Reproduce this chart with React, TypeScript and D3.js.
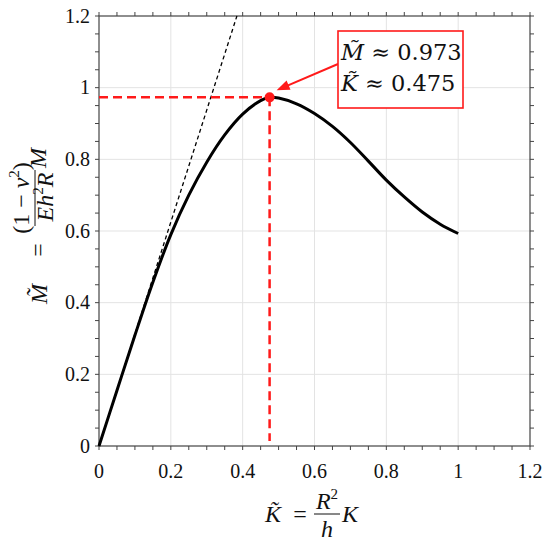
import React from 'react';
import * as d3 from 'd3';

// curve
const kValues = [0, 0.05, 0.1, 0.15, 0.2, 0.25, 0.3, 0.35, 0.4, 0.45, 0.475, 0.5, 0.55, 0.6, 0.65, 0.7, 0.75, 0.8, 0.85, 0.9, 0.95, 1.0];
const mValues = [0, 0.155, 0.309, 0.457, 0.59, 0.7, 0.792, 0.868, 0.926, 0.964, 0.973, 0.971, 0.955, 0.928, 0.892, 0.847, 0.795, 0.742, 0.695, 0.653, 0.619, 0.593];

// initial slope line (dashed black)
const tangentK = [0, 0.384];
const tangentM = [0, 1.2];

// maximum
const peakK = 0.475;
const peakM = 0.973;

const majorTicks = [0, 0.2, 0.4, 0.6, 0.8, 1, 1.2];
const minorTicks = d3.range(0, 25).map(i => i * 0.05);
const tickLabels = ['0', '0.2', '0.4', '0.6', '0.8', '1', '1.2'];

const W = 550;
const H = 542;
const left = 99, right = 530, top = 16, bottom = 446;

const RED = '#ff1a1a';
const SERIF = 'Liberation Serif, DejaVu Serif, serif';
const BOXFONT = 'DejaVu Serif, serif';

export default function App() {
  const x = d3.scaleLinear().domain([0, 1.2]).range([left, right]);
  const y = d3.scaleLinear().domain([0, 1.2]).range([bottom, top]);

  const pts = kValues.map((k, i) => [k, mValues[i]] as [number, number]);
  const line = d3.line<[number, number]>()
    .x(d => x(d[0]))
    .y(d => y(d[1]))
    .curve(d3.curveCatmullRom.alpha(0.5));

  const tangent = d3.line<[number, number]>()
    .x(d => x(d[0]))
    .y(d => y(d[1]));
  const tangentPts = tangentK.map((k, i) => [k, tangentM[i]] as [number, number]);

  const px = x(peakK);
  const py = y(peakM);

  // annotation box
  const bx = 338, by = 31, bw = 125, bh = 77;
  const ax0 = bx, ay0 = 64;
  const ax1 = px + 7, ay1 = py - 7;
  const ang = Math.atan2(ay1 - ay0, ax1 - ax0);
  const hl = 13, hw = 5;
  const head = [
    [ax1, ay1],
    [ax1 - hl * Math.cos(ang) + hw * Math.sin(ang), ay1 - hl * Math.sin(ang) - hw * Math.cos(ang)],
    [ax1 - hl * Math.cos(ang) - hw * Math.sin(ang), ay1 - hl * Math.sin(ang) + hw * Math.cos(ang)],
  ].map(p => p.join(',')).join(' ');

  const tl = 4;
  const axisColor = '#444';

  return (
    <svg width={W} height={H} style={{ position: 'absolute', left: 0, top: 0, background: '#fff' }}>
      <rect x={0} y={0} width={W} height={H} fill="#fff" />
      {/* grid */}
      {majorTicks.slice(1, -1).map(t => (
        <g key={'g' + t}>
          <line x1={x(t)} x2={x(t)} y1={top} y2={bottom} stroke="#e3e3e3" strokeWidth={1} />
          <line x1={left} x2={right} y1={y(t)} y2={y(t)} stroke="#e3e3e3" strokeWidth={1} />
        </g>
      ))}

      {/* ticks, outward on all four sides */}
      {minorTicks.map(t => (
        <g key={'t' + t} stroke={axisColor} strokeWidth={1}>
          <line x1={x(t)} x2={x(t)} y1={bottom} y2={bottom + tl} />
          <line x1={x(t)} x2={x(t)} y1={top} y2={top - tl} />
          <line x1={left} x2={left - tl} y1={y(t)} y2={y(t)} />
          <line x1={right} x2={right + tl} y1={y(t)} y2={y(t)} />
        </g>
      ))}
      <rect x={left} y={top} width={right - left} height={bottom - top} fill="none" stroke={axisColor} strokeWidth={1.2} />

      {/* tick labels */}
      <g style={{ fontFamily: SERIF }} fontSize={20} fill="#111">
        {majorTicks.map((t, i) => (
          <text key={'xl' + t} x={x(t)} y={478} textAnchor="middle">{tickLabels[i]}</text>
        ))}
        {majorTicks.map((t, i) => (
          <text key={'yl' + t} x={90} y={y(t) + 6.5} textAnchor="end">{tickLabels[i]}</text>
        ))}
      </g>

      {/* tangent */}
      <path d={tangent(tangentPts) || ''} fill="none" stroke="#000" strokeWidth={1.3} strokeDasharray="4,3" />

      {/* red guides */}
      <line x1={left} x2={px} y1={py} y2={py} stroke={RED} strokeWidth={2.5} strokeDasharray="9,5" />
      <line x1={px} x2={px} y1={py} y2={bottom - 5} stroke={RED} strokeWidth={2.5} strokeDasharray="9,5" />

      {/* curve */}
      <path d={line(pts) || ''} fill="none" stroke="#000" strokeWidth={3} />
      <circle cx={px} cy={py} r={5} fill={RED} />

      {/* annotation */}
      <line x1={ax0} y1={ay0} x2={ax1 - 8 * Math.cos(ang)} y2={ay1 - 8 * Math.sin(ang)} stroke={RED} strokeWidth={2} />
      <polygon points={head} fill={RED} />
      <rect x={bx} y={by} width={bw} height={bh} fill="#fff" stroke={RED} strokeWidth={1.6} />
      <g style={{ fontFamily: BOXFONT }} fontSize={22.5} fill="#111">
        <text x={341} y={60}>
          <tspan fontStyle="italic">M&#771;</tspan><tspan> ≈ 0.973</tspan>
        </text>
        <text x={341} y={91}>
          <tspan fontStyle="italic">K&#771;</tspan><tspan> ≈ 0.475</tspan>
        </text>
      </g>

      {/* x label */}
      <g style={{ fontFamily: SERIF }} fontSize={24} fill="#111">
        <text x={265} y={522} fontStyle="italic">K&#771;</text>
        <text x={300} y={522} textAnchor="middle">=</text>
        <line x1={314} x2={340} y1={514} y2={514} stroke="#111" strokeWidth={1} />
        <text x={327} y={509} textAnchor="middle"><tspan fontStyle="italic">R</tspan><tspan fontSize={15} dy={-10}>2</tspan></text>
        <text x={327} y={537} textAnchor="middle" fontStyle="italic">h</text>
        <text x={342} y={522} fontStyle="italic">K</text>
      </g>

      {/* y label (rotated) */}
      <g transform="rotate(-90)" style={{ fontFamily: SERIF }} fontSize={24} fill="#111">
        <text x={-304} y={47} fontStyle="italic">M&#771;</text>
        <text x={-250} y={46} textAnchor="middle">=</text>
        <line x1={-226} x2={-170} y1={35} y2={35} stroke="#111" strokeWidth={1} />
        <text x={-198} y={29} textAnchor="middle"><tspan>(1 − </tspan><tspan fontStyle="italic">ν</tspan><tspan fontSize={15} dy={-10}>2</tspan><tspan dy={10}>)</tspan></text>
        <text x={-197} y={53} textAnchor="middle"><tspan fontStyle="italic">Eh</tspan><tspan fontSize={15} dy={-10}>2</tspan><tspan fontStyle="italic" dy={10}>R</tspan></text>
        <text x={-168} y={46} fontStyle="italic">M</text>
      </g>
    </svg>
  );
}
